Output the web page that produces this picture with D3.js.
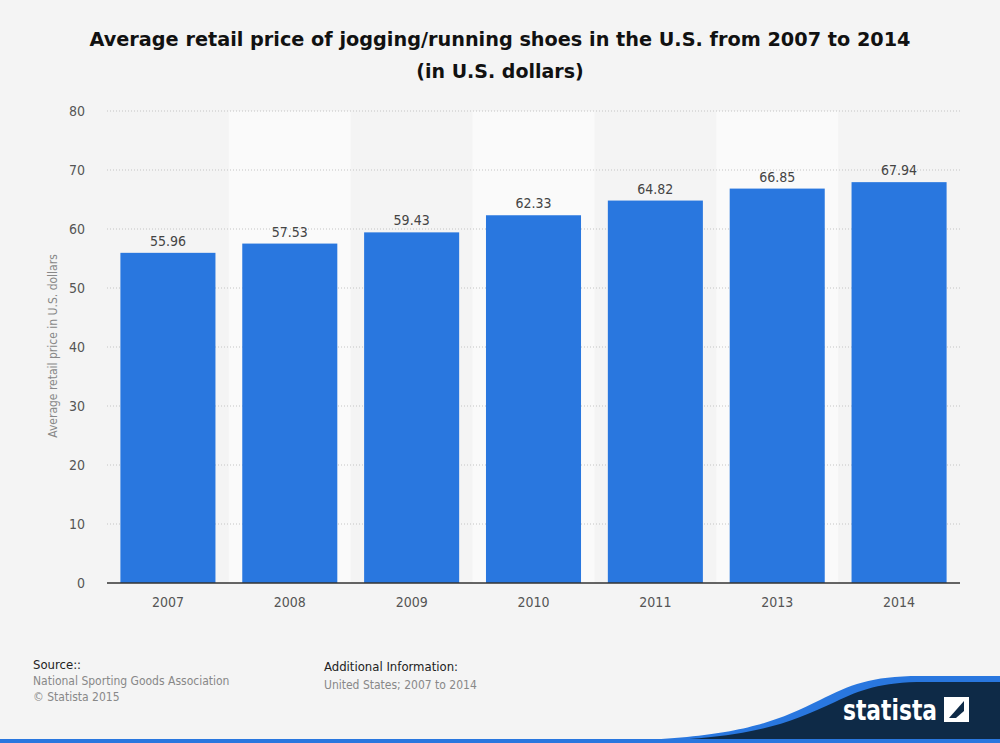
<!DOCTYPE html>
<html><head><meta charset="utf-8">
<script src="https://cdn.jsdelivr.net/npm/d3@7"></script>
<style>
body{margin:0;background:#f4f4f4;}
text{font-family:"DejaVu Sans Condensed","DejaVu Sans",sans-serif;font-stretch:condensed;}
</style></head><body>
<svg id="chart" width="1000" height="743"></svg>
<script>
const years = ['2007', '2008', '2009', '2010', '2011', '2013', '2014'];
const prices = [55.96, 57.53, 59.43, 62.33, 64.82, 66.85, 67.94];
const yTicks = [0, 10, 20, 30, 40, 50, 60, 70, 80];

const svg = d3.select('#chart');
svg.append('rect').attr('width', 1000).attr('height', 743).attr('fill', '#f4f4f4');

let x = d3.scaleBand().domain(years).range([107, 960]).paddingInner(0.22).paddingOuter(0.11);
let y = d3.scaleLinear().domain([0, 80]).range([583, 111]);

// alternating column shading
years.forEach((yr, i) => {
    if (i % 2 === 1) {
        svg.append('rect')
            .attr('x', x(yr) - x.step() * x.paddingInner() / 2)
            .attr('y', y(80))
            .attr('width', x.step())
            .attr('height', y(0) - y(80))
            .attr('fill', '#fafafa');
    }
});

// grid lines
yTicks.forEach(t => {
    if (t === 0) return;
    svg.append('line')
        .attr('x1', 107).attr('x2', 960)
        .attr('y1', y(t)).attr('y2', y(t))
        .attr('stroke', '#c4c4c4').attr('stroke-dasharray', '1,2');
});

let yAxis = svg.append('g').attr('transform', 'translate(90,0)')
    .call(d3.axisLeft(y).tickValues(yTicks).tickSize(0).tickPadding(5));
yAxis.select('.domain').remove();
yAxis.selectAll('text').attr('font-size', 14).attr('fill', '#555');

svg.selectAll('.bar').data(prices).enter().append('rect')
    .attr('x', (d, i) => x(years[i]))
    .attr('y', d => y(d))
    .attr('width', x.bandwidth())
    .attr('height', d => y(0) - y(d))
    .attr('fill', '#2977df');

svg.selectAll('.val').data(prices).enter().append('text')
    .attr('x', (d, i) => x(years[i]) + x.bandwidth() / 2)
    .attr('y', d => y(d) - 7)
    .attr('text-anchor', 'middle').attr('font-size', 14).attr('fill', '#444')
    .text(d => d.toFixed(2));

let xAxis = svg.append('g').attr('transform', 'translate(0,583)')
    .call(d3.axisBottom(x).tickSize(0).tickPadding(14));
xAxis.select('.domain').attr('stroke', '#333').attr('stroke-width', 1.5).attr('d', 'M107,0H960');
xAxis.selectAll('text').attr('font-size', 14).attr('fill', '#555');

svg.append('text').attr('transform', 'translate(57,346) rotate(-90)')
    .attr('text-anchor', 'middle').attr('font-size', 12).attr('fill', '#888')
    .text('Average retail price in U.S. dollars');

svg.append('text').attr('x', 500).attr('y', 46).attr('text-anchor', 'middle')
    .attr('font-size', 19).attr('font-weight', 'bold').attr('fill', '#111')
    .attr('textLength', 821).attr('lengthAdjust', 'spacingAndGlyphs')
    .style('font-family', 'DejaVu Sans').style('font-stretch', 'normal')
    .text('Average retail price of jogging/running shoes in the U.S. from 2007 to 2014');
svg.append('text').attr('x', 500).attr('y', 78).attr('text-anchor', 'middle')
    .attr('font-size', 19).attr('font-weight', 'bold').attr('fill', '#111')
    .style('font-family', 'DejaVu Sans').style('font-stretch', 'normal')
    .text('(in U.S. dollars)');

// footer
svg.append('text').attr('x', 33).attr('y', 669).attr('font-size', 13).attr('fill', '#222').text('Source::');
svg.append('text').attr('x', 33).attr('y', 685).attr('font-size', 12).attr('fill', '#888').text('National Sporting Goods Association');
svg.append('text').attr('x', 33).attr('y', 701).attr('font-size', 12).attr('fill', '#888').text('© Statista 2015');
svg.append('text').attr('x', 324).attr('y', 671).attr('font-size', 13).attr('fill', '#222').text('Additional Information:');
svg.append('text').attr('x', 324).attr('y', 689).attr('font-size', 12).attr('fill', '#888').text('United States; 2007 to 2014');

// logo swoosh
svg.append('path').attr('d', 'M560,743 C720,740 760,730 820,700 C850,685 870,676 920,676 L1000,676 L1000,743 Z').attr('fill', '#2977df');
svg.append('path').attr('d', 'M600,743 C740,740 775,730 835,702 C860,690 880,682 925,682 L1000,682 L1000,743 Z').attr('fill', '#0e2a47');
svg.append('rect').attr('x', 0).attr('y', 739).attr('width', 1000).attr('height', 4).attr('fill', '#2977df');
svg.append('text').attr('x', 843).attr('y', 720).attr('font-size', 29).attr('font-weight', 'bold').attr('fill', '#fff')
    .attr('textLength', 94).attr('lengthAdjust', 'spacingAndGlyphs').text('statista');
svg.append('rect').attr('x', 944).attr('y', 697).attr('width', 25).attr('height', 25).attr('fill', '#fff');
svg.append('path').attr('d', 'M949,718 L964,701 L964,711 L956,718 Z').attr('fill', '#0e2a47');
</script></body></html>
